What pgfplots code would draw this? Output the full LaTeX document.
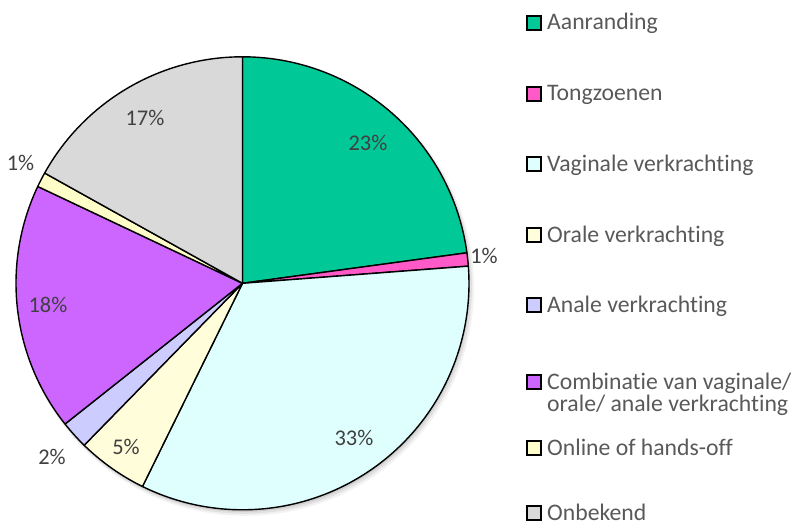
\documentclass[border=0pt]{standalone}
\usepackage{pgfplots}
\pgfplotsset{compat=1.18}
\usepackage{fontspec}
\setmainfont{Carlito}[Ligatures=NoCommon]
\definecolor{cAan}{HTML}{00C896}
\definecolor{cTong}{HTML}{FF5AC8}
\definecolor{cVag}{HTML}{DFFFFF}
\definecolor{cOra}{HTML}{FFFDDA}
\definecolor{cAna}{HTML}{CCCCFF}
\definecolor{cComb}{HTML}{CC66FF}
\definecolor{cOnl}{HTML}{FFFDC8}
\definecolor{cOnb}{HTML}{D9D9D9}
\definecolor{lbl}{HTML}{404040}
\definecolor{leg}{HTML}{595959}

% pie centre and radius, in px of the reference (y up)
\def\cx{242.5}\def\cy{242.7}\def\rr{226.5}
\newcommand\bigf{\fontsize{22.5}{26}\selectfont}
\newcommand\legf{\fontsize{23.8}{27}\selectfont}
% one slice between two cumulative percentages
\newcommand\slice[3]{%
  \addplot[draw=black, line width=1.4bp, line join=round, fill=#3,
    domain={90-3.6*(#2)}:{90-3.6*(#1)}, samples=90, variable=\t]
    ({\cx+\rr*cos(\t)}, {\cy+\rr*sin(\t)}) -- (axis cs:\cx,\cy) -- cycle;}
\newcommand\legitem[3]{%
  \draw[black, line width=1.3bp, fill=#2] (axis cs:527,#1-7) rectangle (axis cs:541,#1+7);
  \node[anchor=base west, inner sep=0pt, text=leg, font=\legf] at (axis cs:547,#1-7) {#3};}

\begin{document}
\begin{tikzpicture}[font=\bigf]
\useasboundingbox (0,0) rectangle (796bp,526bp);
\begin{axis}[at={(0,0)}, anchor=origin, x=1bp, y=1bp,
  xmin=0, xmax=796, ymin=0, ymax=526, hide axis, clip=false]
% soft shadow
\fill[black, opacity=0.05] (axis cs:\cx+3,\cy-4) circle [radius=\rr+2];
\fill[black, opacity=0.07] (axis cs:\cx+2,\cy-3) circle [radius=\rr+1];
\fill[black, opacity=0.09] (axis cs:\cx+1,\cy-2) circle [radius=\rr];
% cumulative shares (%): 22.85, 0.94, 33.49, 5.04, 2.01, 17.70, 1.06, 16.91
\slice{0}{22.85}{cAan}
\slice{22.85}{23.79}{cTong}
\slice{23.79}{57.28}{cVag}
\slice{57.28}{62.32}{cOra}
\slice{62.32}{64.33}{cAna}
\slice{64.33}{82.03}{cComb}
\slice{82.03}{83.09}{cOnl}
\slice{83.09}{100}{cOnb}
% data labels
\begin{scope}[every node/.append style={text=lbl, inner sep=0pt, font=\bigf}]
\node at (axis cs:368,383) {23\%};
\node at (axis cs:484,270) {1\%};
\node at (axis cs:354,88) {33\%};
\node at (axis cs:126,79) {5\%};
\node at (axis cs:52,69) {2\%};
\node at (axis cs:48,221) {18\%};
\node at (axis cs:20.5,363) {1\%};
\node at (axis cs:145,408) {17\%};
\end{scope}
% legend
\legitem{503}{cAan}{Aanranding}
\legitem{432}{cTong}{Tongzoenen}
\legitem{362}{cVag}{Vaginale verkrachting}
\legitem{291}{cOra}{Orale verkrachting}
\legitem{221}{cAna}{Anale verkrachting}
\legitem{144}{cComb}{Combinatie van vaginale/}
\node[anchor=base west, inner sep=0pt, text=leg, font=\legf] at (axis cs:547,114.3) {orale/ anale verkrachting};
\legitem{78}{cOnl}{Online of hands-off}
\legitem{13}{cOnb}{Onbekend}
\end{axis}
\end{tikzpicture}
\end{document}
